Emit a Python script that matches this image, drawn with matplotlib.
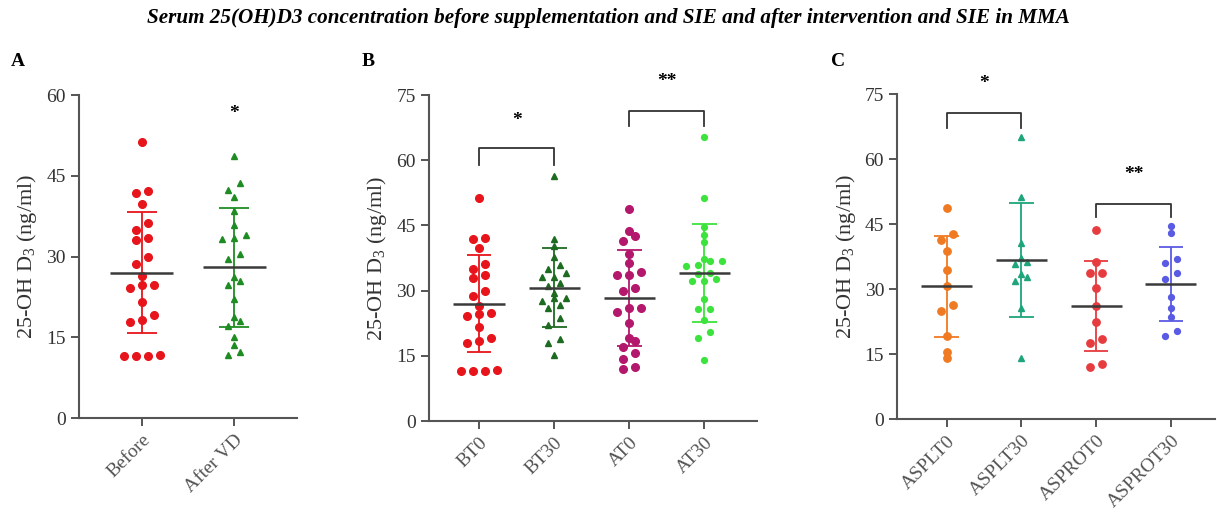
import numpy as np
import matplotlib.pyplot as plt

plt.rcParams['font.family'] = ['Liberation Serif', 'DejaVu Serif']
plt.rcParams['mathtext.fontset'] = 'custom'
plt.rcParams['mathtext.rm'] = 'Liberation Serif'
plt.rcParams['mathtext.it'] = 'Liberation Serif:italic'

# values (ng/ml)
before = [51.2, 42.1, 41.8, 39.8, 36.2, 35.0, 33.5, 33.0, 29.9, 28.7, 26.4,
          24.7, 24.1, 24.8, 21.6, 19.1, 17.9, 18.3, 11.5, 11.8, 11.5, 11.5]
after_vd = [48.6, 43.6, 42.4, 41.0, 38.4, 35.9, 34.1, 33.5, 33.3, 30.4, 29.6,
            26.2, 25.4, 24.8, 22.1, 18.8, 18.1, 17.1, 15.1, 13.6, 11.7, 12.3]

bt0 = before
bt30 = [56.4, 41.9, 40.3, 37.7, 35.9, 35.0, 33.1, 34.0, 33.1, 31.7, 31.1,
        29.5, 28.4, 28.2, 27.6, 26.7, 26.1, 23.6, 22.2, 18.8, 18.0, 15.2]
at0 = [48.8, 43.8, 42.6, 41.3, 38.4, 36.3, 34.3, 33.6, 33.6, 30.5, 29.9,
       26.1, 26.1, 25.0, 22.5, 19.0, 18.4, 17.1, 15.6, 14.2, 11.9, 12.4]
at30 = [65.3, 51.2, 44.6, 42.8, 41.1, 37.2, 36.7, 36.7, 36.0, 35.7, 33.8,
        34.0, 32.6, 32.1, 32.1, 28.0, 25.7, 25.7, 23.2, 20.4, 19.0, 14.0]

asplt0 = [48.8, 42.7, 41.4, 38.8, 34.5, 30.8, 26.4, 25.1, 19.2, 15.6, 14.1]
asplt30 = [65.1, 51.4, 40.8, 37.3, 36.4, 35.8, 32.9, 33.5, 32.0, 25.6, 14.1]
asprot0 = [43.8, 36.4, 33.8, 33.8, 30.2, 26.2, 22.5, 17.5, 18.5, 12.1, 12.7]
asprot30 = [44.6, 42.9, 37.0, 36.0, 33.8, 32.4, 28.3, 25.8, 23.7, 19.3, 20.4]

labels_a = ['Before', 'After VD']
labels_b = ['BT0', 'BT30', 'AT0', 'AT30']
labels_c = ['ASPLT0', 'ASPLT30', 'ASPROT0', 'ASPROT30']

fig = plt.figure(figsize=(12.17, 5.18), dpi=100)
W, H = 1217, 518


def swarm(vals, px_unit, gap=6.5):
    # simple GraphPad-like scatter: points closer than `gap` px share a row
    v = np.asarray(vals, float)
    order = np.argsort(v, kind='stable')
    offs = np.zeros(len(v))
    rows = []
    for k in order:
        if rows and (v[k] - v[rows[-1][0]]) * px_unit < gap:
            rows[-1].append(k)
        else:
            rows.append([k])
    for r in rows:
        n = len(r)
        for j, k in enumerate(r):
            offs[k] = j - (n - 1) / 2
    return offs


def panel(rect_px, ylim, yticks, xlim, labels, groups, spacing_px):
    l, r, t, b = rect_px
    ax = fig.add_axes([l / W, 1 - b / H, (r - l) / W, (b - t) / H])
    px_unit = (b - t) / (ylim[1] - ylim[0])
    step = 12.0 / spacing_px
    for i, (vals, color, marker, ms) in enumerate(groups):
        vals = np.asarray(vals)
        m, sd = vals.mean(), vals.std(ddof=1)
        ax.vlines(i, m - sd, m + sd, color=color, lw=1.3, zorder=2)
        ax.hlines([m - sd, m + sd], i - 0.165, i + 0.165, color=color, lw=1.3, zorder=2)
        x = i + swarm(vals, px_unit) * step
        ax.plot(x, vals, ls='none', marker=marker, ms=ms, color=color,
                mec=color, zorder=3)
        ax.hlines(m, i - 0.34, i + 0.34, color='#3a3a3a', lw=1.8, zorder=4)
    ax.set_ylim(*ylim)
    ax.set_xlim(*xlim)
    ax.set_yticks(yticks)
    ax.set_xticks(range(len(labels)))
    ax.set_xticklabels(labels, rotation=45, ha='right', rotation_mode='anchor',
                       fontsize=14, color='#333333')
    ax.tick_params(axis='y', labelsize=14, colors='#555555', labelcolor='#333333',
                   length=6, width=1.4)
    ax.tick_params(axis='x', colors='#555555', length=6, width=1.4)
    for s in ['top', 'right']:
        ax.spines[s].set_visible(False)
    for s in ['left', 'bottom']:
        ax.spines[s].set_color('#555555')
        ax.spines[s].set_linewidth(1.5)
    ax.set_ylabel('25-OH D$_3$ (ng/ml)', fontsize=16, color='#333333', labelpad=5)
    return ax


def bracket(ax, x0, x1, y, leg, text, ty):
    ax.plot([x0, x0, x1, x1], [y - leg, y, y, y - leg], color='#333333',
            lw=1.3, clip_on=False)
    ax.text((x0 + x1) / 2, ty, text, ha='center', va='center', fontsize=14,
            fontweight='bold', clip_on=False)


# panel A
ax_a = panel((79, 297, 95, 418.3), (0, 60), [0, 15, 30, 45, 60], (-0.68, 1.68),
             labels_a,
             [(before, '#e8141b', 'o', 5.5),
              (after_vd, '#1f8c23', '^', 4.8)], 92.6)
ax_a.text(1, 56.5, '*', ha='center', va='center', fontsize=14, fontweight='bold')

# panel B
ax_b = panel((429, 757, 95, 421), (0, 75), [0, 15, 30, 45, 60, 75], (-0.666, 3.70),
             labels_b,
             [(bt0, '#e8141b', 'o', 5.5),
              (bt30, '#1c6b20', '^', 4.8),
              (at0, '#b3186c', 'o', 5.5),
              (at30, '#3de33d', 'o', 4.2)], 75.1)
bracket(ax_b, 0, 1, 62.7, 3.8, '*', 69.2)
bracket(ax_b, 2, 3, 71.4, 3.5, '**', 78.1)

# panel C
ax_c = panel((897.3, 1215, 94.3, 419.3), (0, 75), [0, 15, 30, 45, 60, 75], (-0.66, 3.59),
             labels_c,
             [(asplt0, '#f07a22', 'o', 5.3),
              (asplt30, '#1ea57c', '^', 4.8),
              (asprot0, '#e63c3f', 'o', 5.3),
              (asprot30, '#5a5be3', 'o', 4.2)], 74.8)
bracket(ax_c, 0, 1, 70.8, 3.5, '*', 77.4)
bracket(ax_c, 2, 3, 49.8, 3.2, '**', 56.6)

fig.text(0.5, 1 - 18 / H, 'Serum 25(OH)D3 concentration before supplementation and SIE '
         'and after intervention and SIE in MMA', ha='center', va='center',
         fontsize=15.2, fontweight='bold', fontstyle='italic')
for lab, xp in [('A', 18), ('B', 368), ('C', 838)]:
    fig.text(xp / W, 1 - 62 / H, lab, ha='center', va='center', fontsize=14,
             fontweight='bold')

fig.savefig('out.png', dpi=100, facecolor='white')
